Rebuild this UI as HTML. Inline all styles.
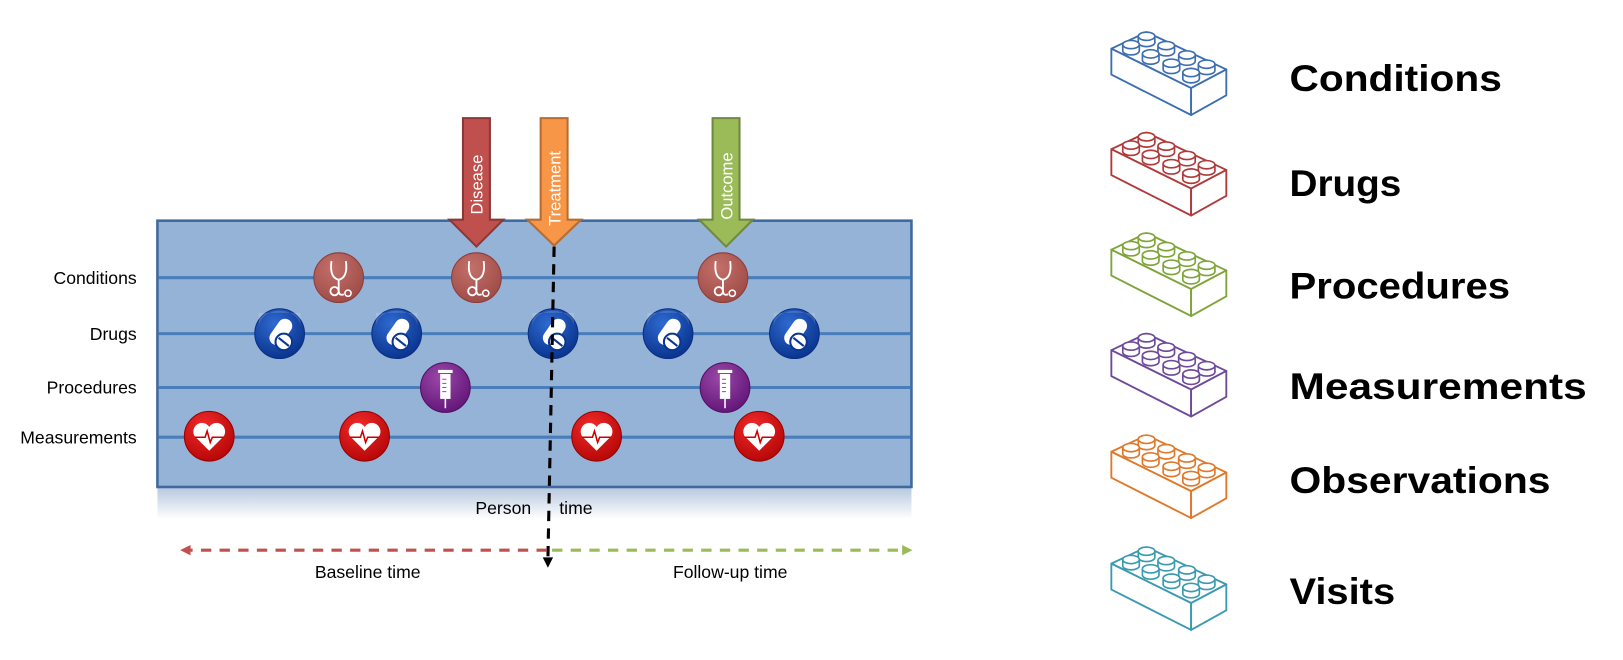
<!DOCTYPE html>
<html><head><meta charset="utf-8"><style>
html,body{margin:0;padding:0;background:#fff;}
svg{display:block;}
text{font-family:"Liberation Sans",sans-serif;}
</style></head><body>
<svg width="1623" height="660" viewBox="0 0 1567 637" preserveAspectRatio="none" xmlns="http://www.w3.org/2000/svg">
<defs>
<linearGradient id="fade" x1="0" y1="0" x2="0" y2="1">
<stop offset="0" stop-color="#b8c9de"/><stop offset="1" stop-color="#ffffff"/>
</linearGradient>
<radialGradient id="gBlue" cx="0.4" cy="0.3" r="0.7"><stop offset="0" stop-color="#2f6ad0"/><stop offset="1" stop-color="#0a3590"/></radialGradient>
<radialGradient id="gRed" cx="0.4" cy="0.3" r="0.7"><stop offset="0" stop-color="#f02a2a"/><stop offset="1" stop-color="#b80808"/></radialGradient>
<radialGradient id="gPur" cx="0.4" cy="0.3" r="0.7"><stop offset="0" stop-color="#9a48a8"/><stop offset="1" stop-color="#64187a"/></radialGradient>
<radialGradient id="gCon" cx="0.4" cy="0.3" r="0.7"><stop offset="0" stop-color="#c4706a"/><stop offset="1" stop-color="#a04c48"/></radialGradient>
<g id="drug">
<circle r="24" fill="url(#gBlue)" stroke="#0a2f80" stroke-width="1"/>
<path d="M-20,-4 A20,16 0 0 1 20,-8 L20,-20 L-20,-20Z" fill="#fff" opacity="0.15"/>
<rect x="-7" y="-16" width="14" height="28" rx="7" fill="#fff" transform="rotate(35)"/>
<circle cx="4" cy="8" r="8" fill="#fff" stroke="#0a3590" stroke-width="2"/>
<line x1="-1" y1="4" x2="9" y2="12" stroke="#0a3590" stroke-width="2"/>
</g>
<g id="heart">
<circle r="24" fill="url(#gRed)" stroke="#900" stroke-width="1"/>
<path d="M0,14 L-14,0 A7,7 0 0 1 0,-9 A7,7 0 0 1 14,0 Z" fill="#fff"/>
<path d="M-14,1 L-4,1 L-2,-5 L1,6 L3,1 L14,1" fill="none" stroke="#c00" stroke-width="1.5"/>
</g>
<g id="syr">
<circle r="24" fill="url(#gPur)" stroke="#501060" stroke-width="1"/>
<rect x="-5" y="-13" width="10" height="24" fill="#fff"/>
<rect x="-7" y="-17" width="14" height="3" fill="#fff"/>
<line x1="0" y1="11" x2="0" y2="20" stroke="#fff" stroke-width="1.5"/>
<path d="M-3,-8h4M-3,-4h4M-3,0h4M-3,4h4" stroke="#9a48a8" stroke-width="1"/>
</g>
<g id="steth">
<circle r="24" fill="url(#gCon)" stroke="#8c3c38" stroke-width="1"/>
<path d="M-7,-16 Q-9,0 0,2 Q9,0 7,-16" fill="none" stroke="#fff" stroke-width="1.8"/>
<path d="M0,2 L0,12 Q0,18 5,16" fill="none" stroke="#fff" stroke-width="1.8"/>
<circle cx="-4" cy="13" r="4" fill="none" stroke="#fff" stroke-width="1.8"/>
<circle cx="9" cy="15" r="3" fill="none" stroke="#fff" stroke-width="1.5"/>
</g>
<g id="stud">
<path d="M-8,-2 L-8,4 A8,4 0 0 0 8,4 L8,-2" fill="#fff" stroke="currentColor" stroke-width="1.6"/>
<ellipse cx="0" cy="-2" rx="8" ry="4" fill="#fff" stroke="currentColor" stroke-width="1.6"/>
</g>
<g id="lego" fill="#fff" stroke="currentColor" stroke-width="1.8" stroke-linejoin="round">
<path d="M0,20 L34,4 L111,40 L77,58 Z"/>
<path d="M0,20 L77,58 L77,84 L0,45 Z"/>
<path d="M77,58 L111,40 L111,65 L77,84 Z"/>
<use href="#stud" x="34" y="10"/><use href="#stud" x="53" y="19"/><use href="#stud" x="73" y="28"/><use href="#stud" x="92" y="37"/>
<use href="#stud" x="19" y="18"/><use href="#stud" x="38" y="27"/><use href="#stud" x="58" y="36"/><use href="#stud" x="77" y="45"/>
</g>
</defs>

<rect x="152" y="471" width="728" height="30" fill="url(#fade)"/>
<rect x="152" y="213" width="728" height="257" fill="#95b3d7" stroke="#3f6aa0" stroke-width="2.5"/>
<g stroke="#4a7ebb" stroke-width="3">
<line x1="153" y1="268" x2="879" y2="268"/>
<line x1="153" y1="322" x2="879" y2="322"/>
<line x1="153" y1="374" x2="879" y2="374"/>
<line x1="153" y1="422" x2="879" y2="422"/>
</g>
<g font-size="17" text-anchor="end" fill="#000">
<text x="132" y="274">Conditions</text>
<text x="132" y="328">Drugs</text>
<text x="132" y="380">Procedures</text>
<text x="132" y="428">Measurements</text>
</g>

<path d="M447,114 L473,114 L473,212 L486,212 L460,238 L434,212 L447,212 Z" fill="#c0504d" stroke="#8c3836" stroke-width="2"/>
<path d="M522,114 L548,114 L548,212 L561,212 L535,237 L509,212 L522,212 Z" fill="#f79646" stroke="#b66d31" stroke-width="2"/>
<path d="M688,114 L714,114 L714,212 L727,212 L701,238 L675,212 L688,212 Z" fill="#9bbb59" stroke="#71893f" stroke-width="2"/>
<g fill="#fff" font-size="16">
<text transform="translate(466,207) rotate(-90)">Disease</text>
<text transform="translate(541,218) rotate(-90)">Treatment</text>
<text transform="translate(707,212) rotate(-90)">Outcome</text>
</g>

<use href="#steth" x="327" y="268"/><use href="#steth" x="460" y="268"/><use href="#steth" x="698" y="268"/>
<use href="#drug" x="270" y="322"/><use href="#drug" x="383" y="322"/><use href="#drug" x="534" y="322"/><use href="#drug" x="645" y="322"/><use href="#drug" x="767" y="322"/>
<use href="#syr" x="430" y="374"/><use href="#syr" x="700" y="374"/>
<use href="#heart" x="202" y="421"/><use href="#heart" x="352" y="421"/><use href="#heart" x="576" y="421"/><use href="#heart" x="733" y="421"/>

<line x1="535" y1="238" x2="529" y2="540" stroke="#000" stroke-width="3" stroke-dasharray="10,7"/>
<path d="M524,538 L534,538 L529,548 Z" fill="#000"/>
<line x1="528" y1="531" x2="182" y2="531" stroke="#c0504d" stroke-width="3" stroke-dasharray="10,8"/>
<path d="M184,526 L174,531 L184,536 Z" fill="#c0504d"/>
<line x1="533" y1="531" x2="872" y2="531" stroke="#9bbb59" stroke-width="3" stroke-dasharray="10,8"/>
<path d="M871,526 L881,531 L871,536 Z" fill="#9bbb59"/>
<g font-size="17" fill="#000">
<text x="459" y="496">Person</text>
<text x="540" y="496">time</text>
<text x="355" y="558" text-anchor="middle">Baseline time</text>
<text x="705" y="558" text-anchor="middle">Follow-up time</text>
</g>

<use href="#lego" x="1073" y="27" style="color:#3d6eb0"/>
<use href="#lego" x="1073" y="124" style="color:#b03a3a"/>
<use href="#lego" x="1073" y="221" style="color:#7ea43a"/>
<use href="#lego" x="1073" y="318" style="color:#6e4a9a"/>
<use href="#lego" x="1073" y="416" style="color:#e0782a"/>
<use href="#lego" x="1073" y="524" style="color:#3a9ab0"/>
<g font-size="36" font-weight="bold" fill="#000">
<text x="1245" y="88" textLength="205" lengthAdjust="spacingAndGlyphs">Conditions</text>
<text x="1245" y="189" textLength="108" lengthAdjust="spacingAndGlyphs">Drugs</text>
<text x="1245" y="288" textLength="213" lengthAdjust="spacingAndGlyphs">Procedures</text>
<text x="1245" y="385" textLength="287" lengthAdjust="spacingAndGlyphs">Measurements</text>
<text x="1245" y="476" textLength="252" lengthAdjust="spacingAndGlyphs">Observations</text>
<text x="1245" y="583" textLength="102" lengthAdjust="spacingAndGlyphs">Visits</text>
</g>
</svg>
</body></html>
